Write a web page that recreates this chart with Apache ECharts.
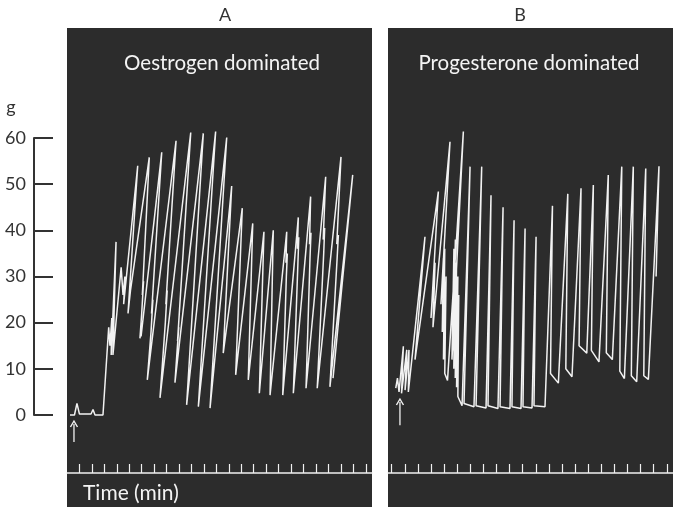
<!DOCTYPE html>
<html><head><meta charset="utf-8">
<script src="https://cdn.jsdelivr.net/npm/echarts@6/dist/echarts.min.js"></script>
<style>html,body{margin:0;padding:0;background:#fff}#c{width:673px;height:507px}</style>
</head><body><div id="c"></div>
<script>
// ---- data (time in min, force in g) ----
const panelLetters = ['A', 'B'];
const panelTitles = ['Oestrogen dominated', 'Progesterone dominated'];
const timeLabel = 'Time (min)';
const forceUnit = 'g';

// Panel A trace vertices
const timeA = [0.24,0.6,0.80,1.0,1.93,2.09,2.25,2.89,3.35,3.45,3.6,3.55,3.94,3.69,4.35,4.5,4.65,4.55,5.68,4.9,5.1,6.61,6.05,6.15,6.0,5.86,6.0,5.95,7.61,6.79,6.9,6.75,6.45,8.76,7.94,8.05,7.9,7.47,9.94,8.88,8.98,8.82,8.67,10.95,9.61,11.94,10.55,12.83,11.49,13.23,12.55,14.08,13.55,14.92,14.56,15.82,15.45,16.57,16.31,17.65,17.59,17.7,17.62,17.33,18.58,18.51,18.62,18.55,18.18,19.57,19.48,19.6,19.52,19.20,20.78,20.58,20.7,20.62,20.10,22.01,21.67,21.8,21.7,21.12,22.95,21.37];
const forceA = [0,0,2.5,0.2,0.2,1.2,0,0,19,15,21,13,37.5,13,32,26,30,24,54,22,27,55.8,26,29,22,16.6,20,17,56.9,22,25,18,7.6,59.4,24,27,20,3.7,61.2,16,19,13,7,61,2.2,61.4,1.8,60.1,1.5,49.6,13.4,44.8,8.7,41.5,7.6,39.7,4.7,40,4.3,39.7,33,35,30,4.3,42.8,36,38.5,33,4.7,47.3,37,39.5,34,5.8,51.6,38,40.5,35,5.8,55.9,37,39,34,6.1,52,8];

// Panel B trace vertices
const timeB = [1.31,1.44,1.56,1.89,1.75,2.15,2.02,2.32,2.27,3.54,2.78,4.56,4.00,4.31,4.15,5.45,4.76,4.95,4.86,5.05,4.95,5.15,5.05,5.26,6.47,5.60,5.75,5.66,5.86,5.74,5.95,5.85,6.05,5.95,6.12,6.05,6.37,6.98,6.52,7.28,7.87,7.44,8.20,8.58,8.35,9.11,9.50,9.27,10.03,10.34,10.18,10.87,11.18,11.02,11.71,12.02,11.86,12.70,13.27,13.12,13.72,14.44,14.29,14.76,15.45,15.30,15.89,16.39,16.24,16.82,17.53,17.38,17.84,18.56,18.41,18.76,19.44,19.29,19.70,20.39,20.24,20.59,21.40,21.18];
const forceB = [5.8,8,5,14.9,4.7,14.1,5.4,14.1,5,38.6,12,48.4,21,33,19,59.2,24,34,18,36,12,30,9,7.5,61.4,12,36,14,38,10,33,8,30,6,26,4,2,53.8,2.5,1.8,53.8,2,1.5,47.6,2,1.4,45,1.8,1.4,42.2,1.8,1.4,40.4,1.8,1.5,38.6,2,1.8,45.3,9,6.9,47.9,10,8.3,49.1,15,13.4,49.8,14,11.5,52,13.5,12,53.8,9.5,7.9,53.8,8.5,7.2,53.4,8.5,7.7,53.9,30];

// Drug-addition arrows: time and force range (tail, head)
const arrowTimeA = 0.56, arrowForceA = [-5.85, -1.95];
const arrowTimeB = 1.63, arrowForceB = [-2.2, 2.8];

// Minute marks on time strips
const minuteTicksA = [1,2,3,4,5,6,7,8,9,10,11,12,13,14,15,16,17,18,19,20,21,22,23,24];
const minuteTicksB = [1,2,3,4,5,6,7,8,9,10,11,12,13,14,15,16,17,18,19,20,21,22];
const forceTicks = [0,10,20,30,40,50,60];

// ---- chart ----
const PANEL_BG = '#2c2c2c';
const TRACE = '#f2f2f2';
const FONT = 'Lato, "Open Sans", sans-serif';
const zip = (xs, ys) => xs.map((x, i) => [x, ys[i]]);
const arrowPath = 'path://M0,10 L5,0 L10,10';

function arrowData(t, f) {
  return [
    { value: [t, f[0]], symbol: 'none' },
    { value: [t, f[1]], symbol: arrowPath, symbolSize: [7, 6] }
  ];
}

const hiddenY = (grid, min, max) => ({ type: 'value', gridIndex: grid, min, max, show: false });
const hiddenX = (grid, min, max) => ({ type: 'value', gridIndex: grid, min, max, show: false });

const chart = echarts.init(document.getElementById('c'), null, { renderer: 'canvas' });
chart.setOption({
  animation: false,
  backgroundColor: '#fff',
  grid: [
    { left: 67, top: 28, width: 305, height: 479, show: true, backgroundColor: PANEL_BG, borderWidth: 0 },
    { left: 388, top: 28, width: 285, height: 479, show: true, backgroundColor: PANEL_BG, borderWidth: 0 },
    { left: 67, top: 463, width: 305, height: 10 },
    { left: 388, top: 463, width: 285, height: 10 },
    { left: 34, top: 138, width: 20, height: 277 }
  ],
  xAxis: [
    hiddenX(0, 0, 24.5),
    hiddenX(1, 0.7176, 22.47),
    { type: 'value', gridIndex: 2, min: 0, max: 24.5, position: 'bottom',
      axisLine: { show: true, lineStyle: { color: '#f0f0f0', width: 1.5 } },
      axisTick: { show: true, inside: true, length: 9, customValues: minuteTicksA, lineStyle: { color: '#f0f0f0', width: 1.2 } },
      axisLabel: { show: false }, splitLine: { show: false } },
    { type: 'value', gridIndex: 3, min: 0.7176, max: 22.47, position: 'bottom',
      axisLine: { show: true, lineStyle: { color: '#f0f0f0', width: 1.5 } },
      axisTick: { show: true, inside: true, length: 9, customValues: minuteTicksB, lineStyle: { color: '#f0f0f0', width: 1.2 } },
      axisLabel: { show: false }, splitLine: { show: false } },
    hiddenX(4, 0, 1)
  ],
  yAxis: [
    hiddenY(0, -19.93, 83.83),
    hiddenY(1, -19.93, 83.83),
    hiddenY(2, 0, 1),
    hiddenY(3, 0, 1),
    { type: 'value', gridIndex: 4, min: 0, max: 60, interval: 10, position: 'left',
      axisLine: { show: true, lineStyle: { color: '#333', width: 2 } },
      axisTick: { show: true, inside: true, length: 19, customValues: forceTicks, lineStyle: { color: '#333', width: 2 } },
      axisLabel: { show: true, margin: 8, color: '#333', fontSize: 18, fontFamily: FONT, customValues: forceTicks },
      splitLine: { show: false } }
  ],
  series: [
    { type: 'line', xAxisIndex: 0, yAxisIndex: 0, data: zip(timeA, forceA), showSymbol: false, symbol: 'none',
      lineStyle: { color: TRACE, width: 1.5 }, clip: false },
    { type: 'line', xAxisIndex: 1, yAxisIndex: 1, data: zip(timeB, forceB), showSymbol: false, symbol: 'none',
      lineStyle: { color: TRACE, width: 1.5 }, clip: false },
    { type: 'line', xAxisIndex: 0, yAxisIndex: 0, data: arrowData(arrowTimeA, arrowForceA), showSymbol: true,
      lineStyle: { color: TRACE, width: 1.3 }, itemStyle: { color: 'rgba(0,0,0,0)', borderColor: TRACE, borderWidth: 1.3 }, clip: false },
    { type: 'line', xAxisIndex: 1, yAxisIndex: 1, data: arrowData(arrowTimeB, arrowForceB), showSymbol: true,
      lineStyle: { color: TRACE, width: 1.3 }, itemStyle: { color: 'rgba(0,0,0,0)', borderColor: TRACE, borderWidth: 1.3 }, clip: false }
  ],
  graphic: [
    { type: 'text', x: 225, y: 15, style: { text: panelLetters[0], fill: '#333', font: '18px ' + FONT, align: 'center', verticalAlign: 'middle' } },
    { type: 'text', x: 520, y: 15, style: { text: panelLetters[1], fill: '#333', font: '18px ' + FONT, align: 'center', verticalAlign: 'middle' } },
    { type: 'text', x: 222, y: 63, style: { text: panelTitles[0], fill: '#f4f4f4', font: '20.5px ' + FONT, align: 'center', verticalAlign: 'middle' } },
    { type: 'text', x: 529, y: 63, style: { text: panelTitles[1], fill: '#f4f4f4', font: '20.5px ' + FONT, align: 'center', verticalAlign: 'middle' } },
    { type: 'text', x: 11, y: 107, style: { text: forceUnit, fill: '#333', font: '18px ' + FONT, align: 'center', verticalAlign: 'middle' } },
    { type: 'text', x: 83, y: 493, style: { text: timeLabel, fill: '#f4f4f4', font: '21px ' + FONT, align: 'left', verticalAlign: 'middle' } }
  ]
});
</script>
</body></html>
